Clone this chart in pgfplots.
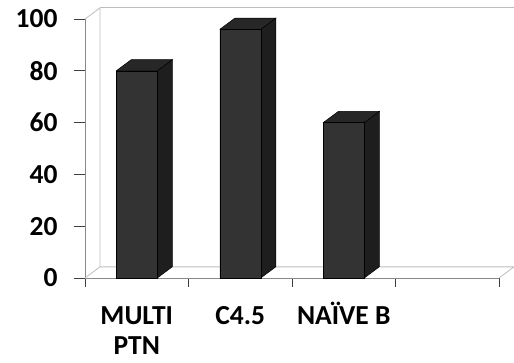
\documentclass[border=0pt]{standalone}
\usepackage{pgfplots}
\pgfplotsset{compat=1.18}
\usepackage{fontspec}
\setmainfont{Carlito}
\definecolor{barfront}{HTML}{333333}
\definecolor{barside}{HTML}{1E1E1E}
\definecolor{bartop}{HTML}{272727}
\definecolor{wall}{HTML}{BDBDBD}
\definecolor{axisgray}{HTML}{8A8A8A}
\newcommand{\lblfont}{\fontsize{27.5bp}{30bp}\selectfont\bfseries}
\begin{document}
\begin{tikzpicture}
\path[use as bounding box] (-85bp,-85bp) rectangle (429bp,278bp);
\begin{axis}[
  at={(0,0)}, anchor=south west,
  scale only axis, width=414bp, height=259bp,
  xmin=0, xmax=4, ymin=0, ymax=100,
  clip=false,
  axis x line*=bottom, axis y line*=left,
  axis line style={axisgray, line width=0.8bp},
  xtick={0.5,1.5,2.5},
  xticklabels={{\vphantom{Ï}MULTI\\PTN},{\vphantom{Ï}C4.5},{NAÏVE B}},
  minor xtick={0,1,2,3,4},
  major x tick style={draw=none},
  minor x tick style={black!75, line width=0.8bp},
  ytick={0,20,40,60,80,100},
  y tick style={black!75, line width=0.8bp},
  tick align=outside,
  major tick length=11bp, minor tick length=9bp,
  /pgf/number format/assume math mode=true,
  xticklabel style={align=center, font=\lblfont, anchor=north, yshift=-10bp},
  yticklabel style={font=\lblfont, xshift=-13bp},
]
% walls and floor
\addplot[wall, line width=0.8bp] coordinates {(0,0) (0.145,4.3) (0.145,104.3) (0,100)};
\addplot[wall, line width=0.8bp] coordinates {(0.145,4.3) (4.145,4.3) (4,0)};
\addplot[wall, line width=0.8bp] coordinates {(0.145,104.3) (4.145,104.3)};
% side faces
\addplot[fill=barside, draw=black, line width=0.5bp] coordinates {(0.698,0) (0.843,4.3) (0.843,84.3) (0.698,80) (0.698,0)};
\addplot[fill=barside, draw=black, line width=0.5bp] coordinates {(1.698,0) (1.843,4.3) (1.843,100.3) (1.698,96) (1.698,0)};
\addplot[fill=barside, draw=black, line width=0.5bp] coordinates {(2.698,0) (2.843,4.3) (2.843,64.3) (2.698,60) (2.698,0)};
% top faces
\addplot[fill=bartop, draw=black, line width=0.5bp] coordinates {(0.302,80) (0.447,84.3) (0.843,84.3) (0.698,80) (0.302,80)};
\addplot[fill=bartop, draw=black, line width=0.5bp] coordinates {(1.302,96) (1.447,100.3) (1.843,100.3) (1.698,96) (1.302,96)};
\addplot[fill=bartop, draw=black, line width=0.5bp] coordinates {(2.302,60) (2.447,64.3) (2.843,64.3) (2.698,60) (2.302,60)};
% front faces
\addplot[ybar, bar width=41bp, bar shift=0pt, fill=barfront, draw=black, line width=0.5bp] coordinates {(0.5,80) (1.5,96) (2.5,60)};
\end{axis}
\end{tikzpicture}
\end{document}
